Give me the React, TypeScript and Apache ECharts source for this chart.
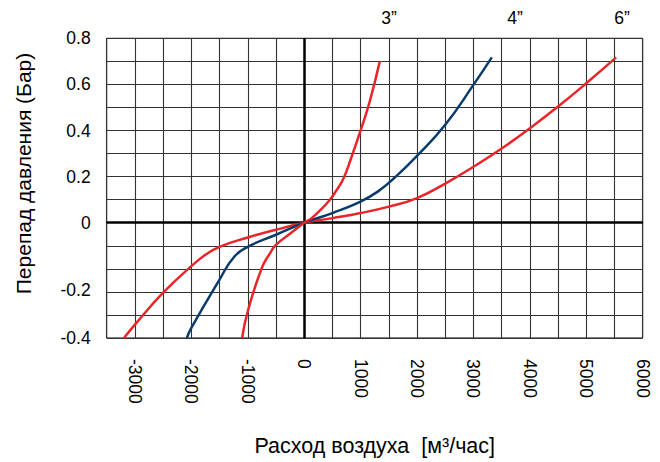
import React, { useEffect, useRef } from 'react';
import * as echarts from 'echarts';

// Air flow (m³/h) and pressure drop (bar) for each valve size
const sizeNames = ['3”', '4”', '6”'];
const flow3 = [-1100, -1000, -750, -600, -500, -235, 0, 132, 309, 456, 544, 692, 839, 1000, 1166, 1340];
const drop3 = [-0.4, -0.29, -0.135, -0.09, -0.066, -0.031, 0, 0.02, 0.06, 0.1, 0.13, 0.19, 0.285, 0.4, 0.53, 0.7];
const flow4 = [-2080, -2000, -1500, -1236, -1000, -500, 0, 500, 1000, 1310, 1600, 2000, 2500, 3000, 3326];
const drop4 = [-0.4, -0.358, -0.17, -0.101, -0.072, -0.036, 0, 0.042, 0.092, 0.136, 0.195, 0.29, 0.425, 0.598, 0.717];
const flow6 = [-3193, -3000, -2500, -2000, -1750, -1500, -1000, -500, 0, 500, 1000, 1500, 2000, 2500, 3000, 3500, 4000, 4500, 5000, 5530];
const drop6 = [-0.4, -0.345, -0.213, -0.13, -0.096, -0.072, -0.044, -0.021, 0, 0.02, 0.042, 0.07, 0.107, 0.17, 0.243, 0.322, 0.41, 0.504, 0.605, 0.717];

const yTicks = [0.8, 0.6, 0.4, 0.2, 0, -0.2, -0.4];
const xMin = -3500;
const xMax = 6000;

const RED = '#e8262a';
const BLUE = '#0b3b6b';

// The printed chart uses a piecewise scale for the negative part of the pressure axis.
function toAxis(v: number): number {
  if (v >= 0) return v * 10;
  if (v >= -0.2) return (v / 0.2) * 2.9;
  return -2.9 + ((v + 0.2) / 0.2) * 2.1;
}

function pairs(xs: number[], ys: number[]) {
  return xs.map((x, i) => [x, toAxis(ys[i])]);
}

export default function App() {
  const ref = useRef<HTMLDivElement>(null);
  useEffect(() => {
    document.body.style.margin = '0';
    if (!ref.current) return;
    const chart = echarts.init(ref.current, null, { renderer: 'svg' });
    const font = 'Liberation Sans, Arial, Helvetica, sans-serif';
    const yAxisTicks = yTicks.map(toAxis);
    const lineSeries = (name: string, data: number[][], color: string, extra: any = {}) => ({
      name,
      type: 'line',
      data,
      smooth: 0.5,
      showSymbol: false,
      symbol: 'none',
      lineStyle: { color, width: 2.5 },
      itemStyle: { color },
      z: 3,
      ...extra,
    });
    chart.setOption({
      animation: false,
      textStyle: { fontFamily: font },
      grid: {
        left: 106.7,
        top: 38.3,
        right: 17.3,
        bottom: 123.7,
        show: true,
        borderColor: '#000',
        borderWidth: 1,
      },
      xAxis: {
        type: 'value',
        min: xMin,
        max: xMax,
        interval: 500,
        name: 'Расход воздуха  [м³/час]',
        nameLocation: 'middle',
        nameGap: 97,
        nameTextStyle: { fontSize: 21.5, color: '#000', fontFamily: font },
        axisLine: { show: true, lineStyle: { color: '#000', width: 1 } },
        axisTick: { show: false },
        axisLabel: {
          rotate: -90,
          margin: 21,
          fontSize: 17.5,
          color: '#000',
          fontFamily: font,
          formatter: (v: number) => (v % 1000 === 0 ? String(v) : ''),
        },
        splitLine: { show: true, lineStyle: { color: '#333', width: 1.1 } },
      },
      yAxis: {
        type: 'value',
        min: toAxis(-0.4),
        max: toAxis(0.8),
        interval: 1,
        axisLine: { show: true, lineStyle: { color: '#000', width: 1 } },
        axisTick: { show: false },
        axisLabel: {
          customValues: yAxisTicks,
          margin: 16,
          fontSize: 17.5,
          color: '#000',
          fontFamily: font,
          formatter: (v: number) => {
            const i = yAxisTicks.findIndex((a) => Math.abs(a - v) < 1e-6);
            return i >= 0 ? String(yTicks[i]) : '';
          },
        },
        splitLine: { show: true, lineStyle: { color: '#333', width: 1.1 } },
      },
      graphic: [
        {
          type: 'text',
          x: 23,
          y: 173.5,
          rotation: Math.PI / 2,
          style: {
            text: 'Перепад давления (Бар)',
            fontSize: 21,
            fontFamily: font,
            fill: '#000',
            align: 'center',
            verticalAlign: 'middle',
          },
        },
        ...[389, 515, 622].map((x, i) => ({
          type: 'text',
          x,
          y: 18,
          style: {
            text: sizeNames[i],
            fontSize: 17.5,
            fontFamily: font,
            fill: '#000',
            align: 'center',
            verticalAlign: 'middle',
          },
        })),
      ],
      series: [
        lineSeries(sizeNames[2], pairs(flow6, drop6), RED, {
          markLine: {
            silent: true,
            symbol: 'none',
            label: { show: false },
            lineStyle: { color: '#000', width: 2.5, type: 'solid' },
            data: [{ xAxis: 0 }, { yAxis: 0 }],
            z: 2,
          },
        }),
        lineSeries(sizeNames[1], pairs(flow4, drop4), BLUE),
        lineSeries(sizeNames[0], pairs(flow3, drop3), RED),
      ],
    });
    return () => chart.dispose();
  }, []);
  return <div ref={ref} style={{ width: 660, height: 462 }} />;
}
